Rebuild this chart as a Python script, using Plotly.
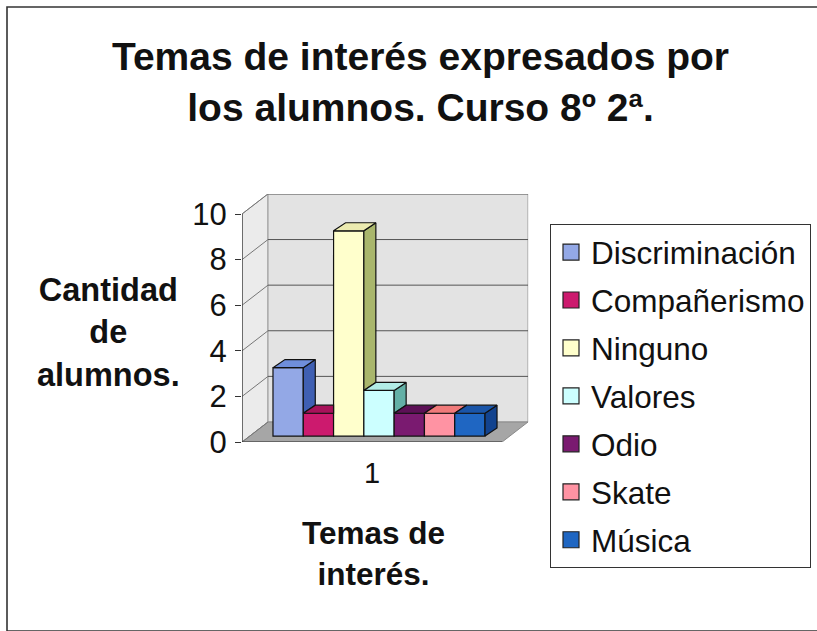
import plotly.graph_objects as go

# ---------------- data ----------------
categories = ["1"]
series_names = ["Discriminación", "Compañerismo", "Ninguno", "Valores", "Odio", "Skate", "Música"]
series_values = [3, 1, 9, 2, 1, 1, 1]
y_tick_values = [0, 2, 4, 6, 8, 10]

front_colors = ["#93a8e6", "#cc1a6e", "#ffffcc", "#ccffff", "#7a1a70", "#ff93a3", "#1f66c2"]
top_colors = ["#6f8edb", "#a8125a", "#ecebb0", "#b2ece6", "#5c1056", "#f07a7a", "#1a55a8"]
side_colors = ["#3f5fb3", "#86104a", "#a9b66c", "#63b0a6", "#470c44", "#d0607a", "#12438f"]

FONT = "Liberation Sans, Arial, sans-serif"

# ---------------- geometry (layout constants) ----------------
W = 817
H_REF = 631                    # target picture height (positions below are in these px)
H = 652                        # figure height
def py(p):                     # target pixel row (from top) -> paper y
    return 1 - p / H_REF

XU, YU = 30.29, 22.7          # target pixels per data unit
X_MIN = -1.523
X_MAX = 7.93
Y_MAX = 10.88
WDX, WDY = 26 / XU, 20 / YU   # wall depth offset in data units
BDX, BDY = 12 / XU, 8 / YU    # bar depth offset in data units
BASE = 6 / YU                 # bars sit slightly back on the floor
FLOOR_RIGHT = X_MIN + 260 / XU

ax_left_px, ax_bottom_px = 242, 440
x_dom = [ax_left_px / W, (ax_left_px + (X_MAX - X_MIN) * XU) / W]
y_dom = [py(ax_bottom_px), py(ax_bottom_px - Y_MAX * YU)]

fig = go.Figure()

# front faces: real bars
for i, (name, v) in enumerate(zip(series_names, series_values)):
    fig.add_trace(go.Bar(
        x=[i], y=[v], base=BASE, width=1, name=name,
        marker=dict(color=front_colors[i], line=dict(color="#111", width=1.2)),
        showlegend=False, hoverinfo="name+y",
    ))

# 3D faces computed from the data values
n = len(series_values)
for i, v in enumerate(series_values):
    vn = series_values[i + 1] if i + 1 < n else 0
    t = BASE + v
    if vn < v:
        lo = BASE + vn
        xs = [i + 0.5, i + 0.5, i + 0.5 + BDX, i + 0.5 + BDX, i + 0.5]
        ys = [lo, t, t + BDY, lo + BDY, lo]
        fig.add_trace(go.Scatter(x=xs, y=ys, mode="lines", fill="toself",
                                 fillcolor=side_colors[i], line=dict(color="#111", width=1.2),
                                 showlegend=False, hoverinfo="skip"))
    if vn > v:
        xs = [i - 0.5, i + 0.5, i + 0.5, i - 0.5 + BDX, i - 0.5]
    else:
        xs = [i - 0.5, i + 0.5, i + 0.5 + BDX, i - 0.5 + BDX, i - 0.5]
    ys = [t, t, t + BDY, t + BDY, t]
    fig.add_trace(go.Scatter(x=xs, y=ys, mode="lines", fill="toself",
                             fillcolor=top_colors[i], line=dict(color="#111", width=1.2),
                             showlegend=False, hoverinfo="skip"))

# legend entries
for i, name in enumerate(series_names):
    fig.add_trace(go.Scatter(
        x=[None], y=[None], mode="markers", name=name, legendgroup=name,
        marker=dict(symbol="square", size=16, color=front_colors[i],
                    line=dict(color="#222", width=1.2)),
    ))

shapes = []
shapes.append(dict(type="path", layer="below", xref="x", yref="y",
                   path=f"M{X_MIN},0 L{X_MIN},{y_tick_values[-1]} L{X_MIN+WDX},{y_tick_values[-1]+WDY} L{X_MIN+WDX},{WDY} Z",
                   fillcolor="#ebebeb", line=dict(color="#9a9a9a", width=1)))
shapes.append(dict(type="rect", layer="below", xref="x", yref="y",
                   x0=X_MIN + WDX, x1=X_MAX - 0.01, y0=WDY, y1=y_tick_values[-1] + WDY,
                   fillcolor="#e3e3e3", line=dict(color="#9a9a9a", width=1)))
shapes.append(dict(type="path", layer="below", xref="x", yref="y",
                   path=f"M{X_MIN},0 L{FLOOR_RIGHT},0 L{FLOOR_RIGHT+WDX},{WDY} L{X_MIN+WDX},{WDY} Z",
                   fillcolor="#a6a6a6", line=dict(color="#8a8a8a", width=1)))
for v in y_tick_values:
    if v > 0:
        shapes.append(dict(type="line", layer="below", xref="x", yref="y",
                           x0=X_MIN + WDX, x1=X_MAX - 0.01, y0=v + WDY, y1=v + WDY,
                           line=dict(color="#555", width=1)))
    shapes.append(dict(type="line", layer="below", xref="x", yref="y",
                       x0=X_MIN, x1=X_MIN + WDX, y0=v, y1=v + WDY,
                       line=dict(color="#777", width=1)))
shapes.append(dict(type="line", xref="x", yref="y", x0=X_MIN, x1=X_MIN, y0=0, y1=y_tick_values[-1],
                   line=dict(color="#333", width=1.2)))
shapes.append(dict(type="line", xref="x", yref="y", x0=X_MIN, x1=FLOOR_RIGHT, y0=0, y1=0,
                   line=dict(color="#333", width=1.2)))
for xx in [X_MIN, FLOOR_RIGHT]:
    shapes.append(dict(type="line", xref="x", yref="y", x0=xx, x1=xx, y0=0, y1=-6 / YU,
                       line=dict(color="#333", width=1.2)))
shapes.append(dict(type="rect", xref="paper", yref="paper", x0=7 / W, x1=1.02, y0=py(628), y1=py(7),
                   line=dict(color="#333", width=1.6), fillcolor="rgba(0,0,0,0)"))

annotations = [
    dict(text="<b>Temas de interés expresados por<br>los alumnos. Curso 8º 2ª.</b>",
         x=420 / W, y=py(82), xref="paper", yref="paper", xanchor="center", yanchor="middle",
         showarrow=False, font=dict(family=FONT, size=39, color="#111")),
    dict(text="<b>Cantidad<br>de<br>alumnos.</b>",
         x=108 / W, y=py(331), xref="paper", yref="paper", xanchor="center", yanchor="middle",
         showarrow=False, font=dict(family=FONT, size=32.5, color="#111")),
    dict(text="<b>Temas de<br>interés.</b>",
         x=373 / W, y=py(551), xref="paper", yref="paper", xanchor="center", yanchor="middle",
         showarrow=False, font=dict(family=FONT, size=31.5, color="#111")),
]

fig.update_layout(
    width=W, height=H,
    margin=dict(l=0, r=0, t=0, b=0),
    paper_bgcolor="white", plot_bgcolor="rgba(0,0,0,0)",
    barmode="overlay",
    font=dict(family=FONT, color="#111"),
    shapes=shapes, annotations=annotations,
    xaxis=dict(domain=x_dom, range=[X_MIN, X_MAX], showgrid=False, zeroline=False, showline=False,
               tickmode="array", tickvals=[(X_MIN + FLOOR_RIGHT) / 2], ticktext=categories,
               ticks="", ticklabelstandoff=11, tickfont=dict(size=29, family=FONT, color="#111")),
    yaxis=dict(domain=y_dom, range=[0, Y_MAX], showgrid=False, zeroline=False, showline=False,
               tickmode="array", tickvals=y_tick_values, ticktext=[str(v) for v in y_tick_values],
               ticks="outside", ticklen=6, tickcolor="#333", ticklabelstandoff=2,
               tickfont=dict(size=31, family=FONT, color="#111")),
    legend=dict(x=550 / W, y=py(223), xanchor="left", yanchor="top",
                bordercolor="#333", borderwidth=1, bgcolor="white",
                font=dict(size=31.5, family=FONT, color="#111"),
                tracegroupgap=4, traceorder="grouped", itemsizing="trace"),
)

fig.write_html(
    "out.html",
    config={"displayModeBar": False},
    post_script=(
        "document.documentElement.style.margin='0px';"
        "document.body.style.margin='0px';"
        "document.documentElement.style.overflow='hidden';"
        "document.body.style.overflow='hidden';"
    ),
)
